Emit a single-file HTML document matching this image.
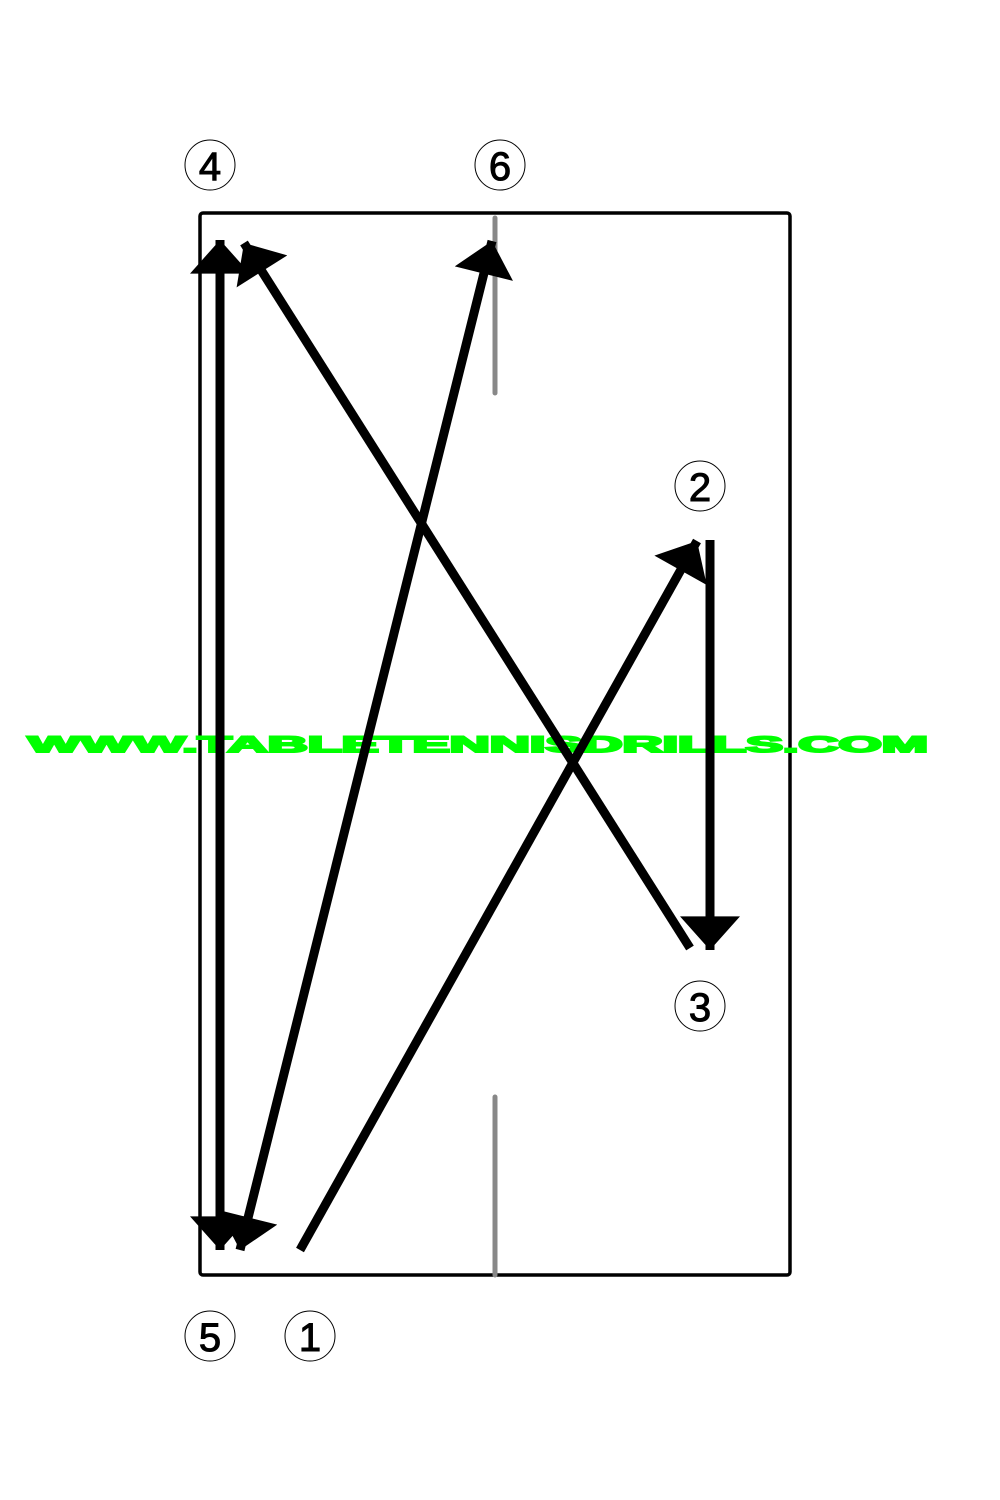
<!DOCTYPE html>
<html><head><meta charset="utf-8"><style>html,body{margin:0;padding:0;background:#fff}svg{display:block}</style></head>
<body>
<svg width="1000" height="1500" viewBox="0 0 1000 1500" xmlns="http://www.w3.org/2000/svg">
<defs>
<marker id="h" markerUnits="userSpaceOnUse" markerWidth="40" markerHeight="60" refX="28" refY="25" orient="auto-start-reverse" viewBox="0 0 30 50">
<path d="M0,0 L28,25 L0,50 z" fill="#000"/>
</marker>
</defs>
<rect x="200" y="213" width="590" height="1062" rx="3" fill="none" stroke="#000" stroke-width="3.5"/>
<line x1="495" y1="218" x2="495" y2="393" stroke="#888" stroke-width="5" stroke-linecap="round"/>
<line x1="495" y1="1097" x2="495" y2="1275" stroke="#888" stroke-width="5" stroke-linecap="round"/>
<text x="28" y="752" font-family="Liberation Sans, sans-serif" font-weight="bold" font-size="22" fill="#00ff00" stroke="#00ff00" stroke-width="2" textLength="900" lengthAdjust="spacingAndGlyphs">WWW.TABLETENNISDRILLS.COM</text>
<g stroke="#000" stroke-width="9" fill="none">
<line x1="220" y1="240" x2="220" y2="1250" marker-start="url(#h)" marker-end="url(#h)"/>
<line x1="492" y1="241" x2="240" y2="1250" marker-start="url(#h)" marker-end="url(#h)"/>
<line x1="690" y1="948" x2="244" y2="243" marker-end="url(#h)"/>
<line x1="300" y1="1250" x2="697" y2="541" marker-end="url(#h)"/>
<line x1="710" y1="540" x2="710" y2="950" marker-end="url(#h)"/>
</g>
<g fill="#fff" stroke="#000" stroke-width="1">
<circle cx="210" cy="165" r="25"/><circle cx="500" cy="165" r="25"/>
<circle cx="700" cy="486" r="25"/><circle cx="700" cy="1006" r="25"/>
<circle cx="210" cy="1336" r="25"/><circle cx="310" cy="1336" r="25"/>
</g>
<g font-family="Liberation Sans, sans-serif" font-size="40" text-anchor="middle" fill="#000" stroke="#000" stroke-width="1">
<text x="210" y="180">4</text><text x="500" y="180">6</text>
<text x="700" y="501">2</text><text x="700" y="1021">3</text>
<text x="210" y="1351">5</text><text x="310" y="1351">1</text>
</g>
</svg>
</body></html>
